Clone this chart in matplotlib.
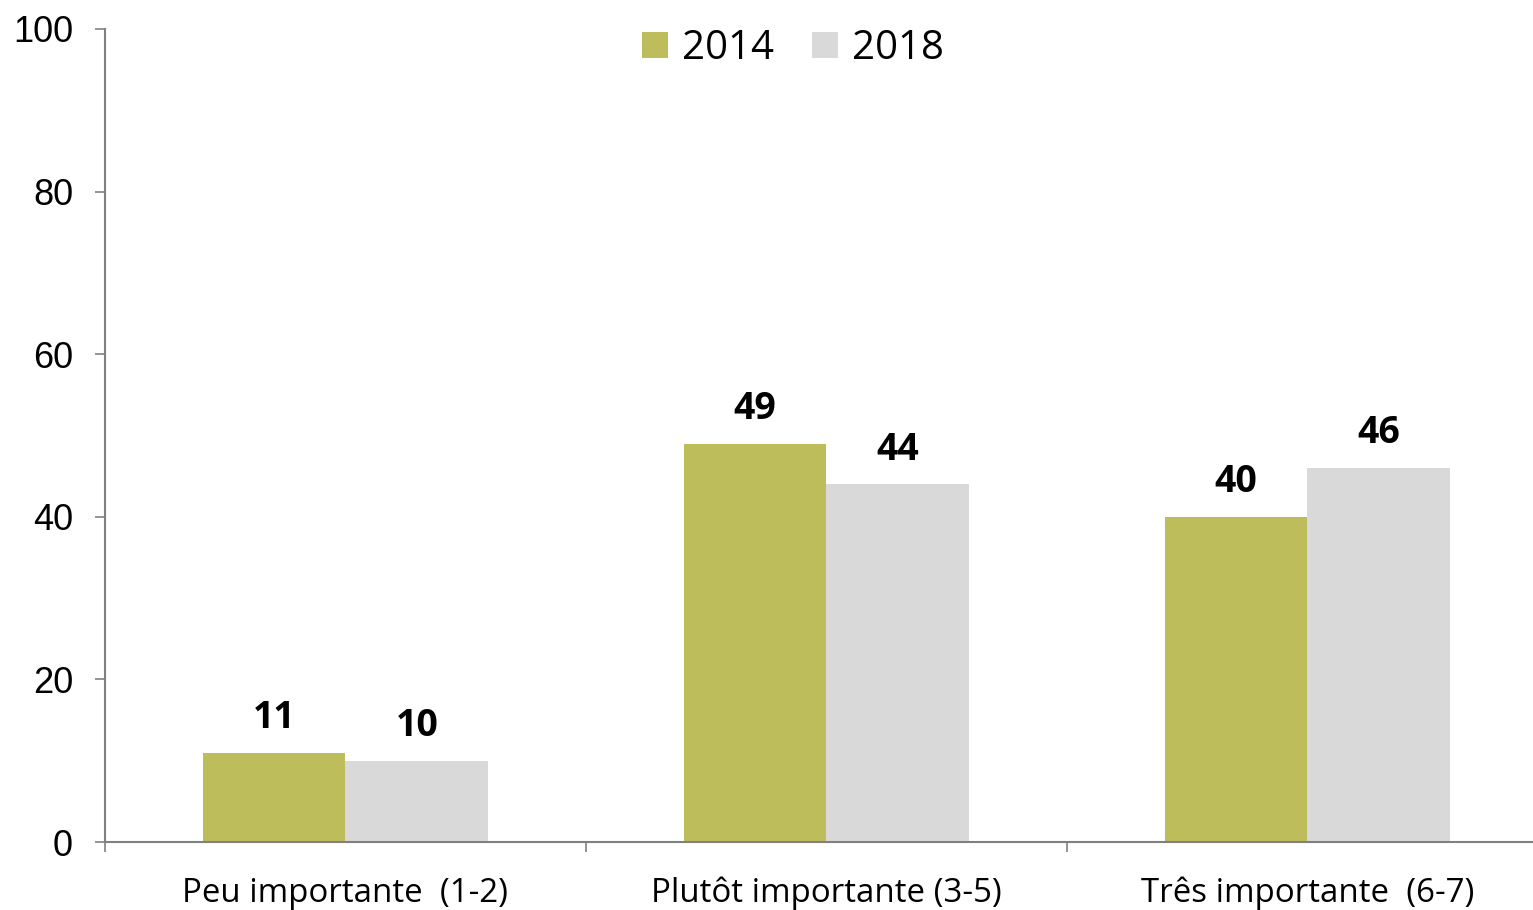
import matplotlib
matplotlib.use("Agg")
import matplotlib.pyplot as plt
import numpy as np

categories = ["Peu importante  (1-2)", "Plutôt importante (3-5)", "Três importante  (6-7)"]
series_names = ["2014", "2018"]
values_2014 = [11, 49, 40]
values_2018 = [10, 44, 46]
yticks = [0, 20, 40, 60, 80, 100]

colors = ["#BDBD5C", "#D9D9D9"]

W, H = 1533, 910
fig = plt.figure(figsize=(W / 100, H / 100), dpi=100)
ax = fig.add_axes([105 / W, 68 / H, (W - 105) / W, 813 / H])

x = np.arange(len(categories))
bw = 0.297
b1 = ax.bar(x - bw / 2, values_2014, bw, color=colors[0], label=series_names[0])
b2 = ax.bar(x + bw / 2, values_2018, bw, color=colors[1], label=series_names[1])

for bars, vals in ((b1, values_2014), (b2, values_2018)):
    for rect, v in zip(bars, vals):
        ax.annotate(f"{v}", (rect.get_x() + rect.get_width() / 2, v),
                    xytext=(0, 25), textcoords="offset points",
                    ha="center", va="center", fontsize=27, fontweight="bold",
                    family="Open Sans", color="black")

ax.set_yticks(yticks)
ax.set_yticklabels([str(t) for t in yticks], family="Liberation Sans", fontsize=26)
ax.set_xticks(x)
ax.set_xticklabels(categories, family="Open Sans", fontsize=23.8)
ax.set_xticks([-0.5, 0.5, 1.5, 2.5], minor=True)
ax.set_ylim(0, 100)
ax.set_xlim(-0.5, 2.469)
ax.tick_params(axis="x", which="major", length=0, pad=25)
ax.tick_params(axis="x", which="minor", length=7, color="#808080", width=1.2)
ax.tick_params(axis="y", length=7, color="#808080", width=1.2, pad=16)

for s in ["top", "right"]:
    ax.spines[s].set_visible(False)
for s in ["left", "bottom"]:
    ax.spines[s].set_color("#808080")
    ax.spines[s].set_linewidth(1.5)

leg = ax.legend(loc="center", bbox_to_anchor=((793 - 105) / (W - 105), (910 - 49 - 68) / 813),
                ncol=2, frameon=False, prop={"family": "Open Sans", "size": 29},
                handlelength=0.63, handleheight=0.63, handletextpad=0.35,
                columnspacing=0.95, borderaxespad=0)

fig.savefig("out.png", dpi=100)
